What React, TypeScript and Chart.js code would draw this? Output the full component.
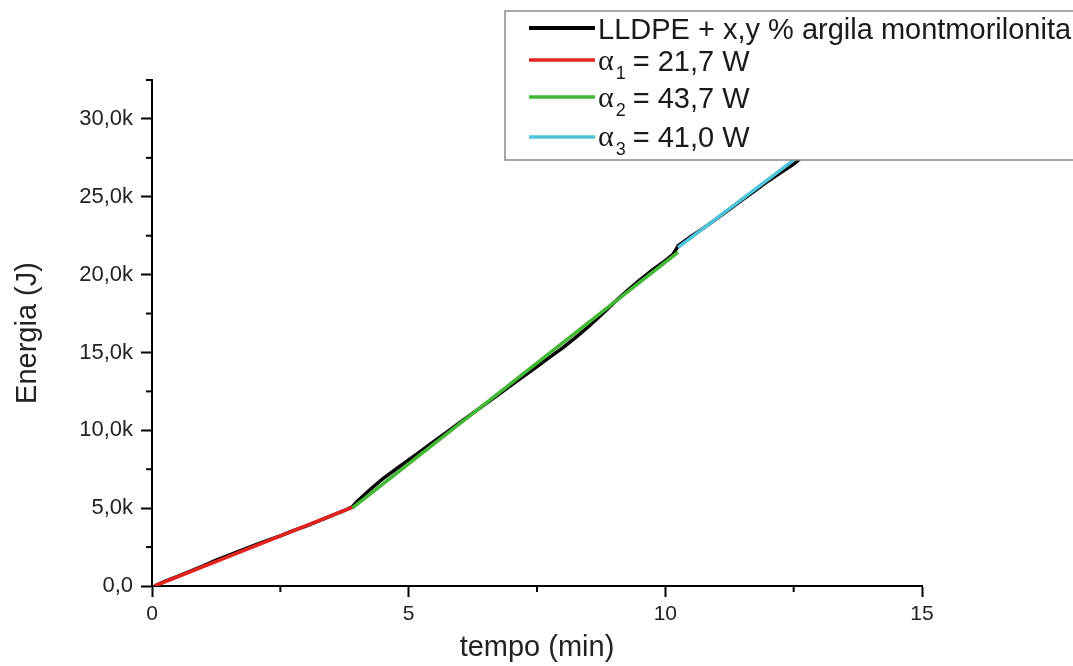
import { useEffect, useRef } from 'react';
import { Chart, registerables } from 'chart.js';

Chart.register(...registerables);

// Measured curve: time (min) and energy (J)
const timeMin = [0.05, 0.25, 0.5, 0.75, 1.0, 1.25, 1.5, 1.75, 2.0, 2.25, 2.5, 2.75, 3.0, 3.25, 3.5, 3.75, 3.9,
  4.0, 4.25, 4.5, 4.75, 5.0, 5.25, 5.5, 5.75, 6.0, 6.25, 6.5, 6.75, 7.0, 7.25, 7.5, 7.75, 8.0, 8.25, 8.5, 8.75,
  9.0, 9.25, 9.5, 9.75, 10.0, 10.15, 10.25, 10.5, 10.75, 11.0, 11.25, 11.5, 11.75, 12.0, 12.25, 12.5, 12.75, 13.0];
const energyJ = [0, 300, 620, 950, 1300, 1660, 1980, 2300, 2620, 2930, 3220, 3550, 3850, 4180, 4520, 4850, 5080,
  5450, 6200, 6900, 7500, 8100, 8700, 9300, 9900, 10500, 11100, 11700, 12300, 12900, 13500, 14100, 14700, 15300,
  15950, 16650, 17400, 18200, 18950, 19650, 20300, 20900, 21300, 21850, 22450, 23000, 23600, 24200, 24800, 25400,
  26000, 26550, 27100, 27800, 28600];

// Linear fits (endpoints)
const fit1X = [0.05, 3.9];
const fit1Y = [0, 5050];
const fit2X = [3.9, 10.25];
const fit2Y = [5000, 21450];
const fit3X = [10.25, 12.7];
const fit3Y = [21750, 27850];

// Legend texts
const legendSymbol = ['', 'α', 'α', 'α'];
const legendSub = ['', '1', '2', '3'];
const legendText = ['LLDPE + x,y % argila montmorilonita', '= 21,7 W', '= 43,7 W', '= 41,0 W'];
const seriesColors = ['#000000', '#e3231f', '#42b934', '#4fc3d8'];

// Axis ticks
const xTickValues = [0, 5, 10, 15];
const xTickLabels = ['0', '5', '10', '15'];
const yTickValues = [0, 5000, 10000, 15000, 20000, 25000, 30000];
const yTickLabels = ['0,0', '5,0k', '10,0k', '15,0k', '20,0k', '25,0k', '30,0k'];

const FONT = "'Liberation Sans', Arial, Helvetica, sans-serif";

const toPts = (xs: number[], ys: number[]) => xs.map((x, i) => ({ x, y: ys[i] }));

const minorTicksPlugin = {
  id: 'minorTicks',
  afterDraw(chart: any) {
    const ctx = chart.ctx;
    const xs = chart.scales.x;
    const ys = chart.scales.y;
    const area = chart.chartArea;
    ctx.save();
    ctx.strokeStyle = '#000';
    ctx.lineWidth = 2;
    for (let v = 2.5; v < 15; v += 5) {
      const px = xs.getPixelForValue(v);
      ctx.beginPath();
      ctx.moveTo(px, area.bottom);
      ctx.lineTo(px, area.bottom + 6);
      ctx.stroke();
    }
    for (let v = 2500; v <= 32500; v += 5000) {
      const py = ys.getPixelForValue(v);
      ctx.beginPath();
      ctx.moveTo(area.left, py);
      ctx.lineTo(area.left - 6, py);
      ctx.stroke();
    }
    ctx.restore();
  },
};

const boxLegendPlugin = {
  id: 'boxLegend',
  afterDraw(chart: any) {
    const ctx = chart.ctx;
    ctx.save();
    const bx = 505, by = 11, bw = 600, bh = 149;
    ctx.fillStyle = '#ffffff';
    ctx.fillRect(bx, by, bw, bh);
    ctx.strokeStyle = '#8a8a8a';
    ctx.lineWidth = 1.5;
    ctx.strokeRect(bx, by, bw, bh);
    const lineY = [28, 60, 97, 137];
    const baseY = [39, 71, 108, 147];
    chart.data.datasets.forEach((ds: any, i: number) => {
      ctx.strokeStyle = ds.borderColor;
      ctx.lineWidth = i === 0 ? 4 : 3.5;
      ctx.beginPath();
      ctx.moveTo(529, lineY[i]);
      ctx.lineTo(595, lineY[i]);
      ctx.stroke();
      ctx.fillStyle = '#1a1a1a';
      ctx.textBaseline = 'alphabetic';
      let x = 598;
      if (legendSymbol[i]) {
        ctx.font = `30px 'Liberation Serif', 'DejaVu Serif', serif`;
        ctx.fillText(legendSymbol[i], x, baseY[i] - 1);
        x += ctx.measureText(legendSymbol[i]).width + 2;
        ctx.font = `18px ${FONT}`;
        ctx.fillText(legendSub[i], x, baseY[i] + 8);
        x += ctx.measureText(legendSub[i]).width + 7;
      }
      ctx.font = `29px ${FONT}`;
      ctx.fillText(legendText[i], x, baseY[i]);
    });
    ctx.restore();
  },
};

export default function App() {
  const ref = useRef<HTMLCanvasElement>(null);
  useEffect(() => {
    document.body.style.margin = '0';
    const canvas = ref.current;
    if (!canvas) return;
    Chart.defaults.font.family = FONT;
    const mkDs = (label: string, data: any[], color: string, order: number) => ({
      label,
      data,
      borderColor: color,
      backgroundColor: color,
      borderWidth: 3.5,
      showLine: true,
      pointRadius: 0,
      order,
    });
    const chart = new Chart(canvas, {
      type: 'scatter',
      data: {
        datasets: [
          mkDs(legendText[0], toPts(timeMin, energyJ), seriesColors[0], 1),
          mkDs(legendSymbol[1] + legendSub[1] + ' ' + legendText[1], toPts(fit1X, fit1Y), seriesColors[1], 0),
          mkDs(legendSymbol[2] + legendSub[2] + ' ' + legendText[2], toPts(fit2X, fit2Y), seriesColors[2], 0),
          mkDs(legendSymbol[3] + legendSub[3] + ' ' + legendText[3], toPts(fit3X, fit3Y), seriesColors[3], 0),
        ],
      },
      options: {
        responsive: false,
        animation: false,
        layout: { padding: { top: 80, right: 151, left: 0, bottom: 0 } },
        plugins: {
          legend: { display: false },
          tooltip: { enabled: false },
        },
        scales: {
          x: {
            type: 'linear',
            min: 0,
            max: 15,
            border: { display: true, color: '#000', width: 2 },
            grid: {
              drawOnChartArea: false,
              drawTicks: true,
              tickLength: 11,
              tickWidth: 2,
              tickColor: '#000',
            },
            afterBuildTicks: (s: any) => {
              s.ticks = xTickValues.map((v) => ({ value: v }));
            },
            ticks: {
              autoSkip: false,
              maxRotation: 0,
              color: '#222',
              padding: 5,
              font: { size: 21, family: FONT },
              callback: (_v: any, i: number) => xTickLabels[i] ?? '',
            },
            title: {
              display: true,
              text: 'tempo (min)',
              color: '#222',
              font: { size: 29, family: FONT },
              padding: { top: 0, bottom: 1 },
            },
            afterFit: (s: any) => {
              s.height = 80;
            },
          },
          y: {
            type: 'linear',
            min: 0,
            max: 32500,
            border: { display: true, color: '#000', width: 2 },
            grid: {
              drawOnChartArea: false,
              drawTicks: true,
              tickLength: 11,
              tickWidth: 2,
              tickColor: '#000',
            },
            afterBuildTicks: (s: any) => {
              s.ticks = yTickValues.map((v) => ({ value: v }));
            },
            ticks: {
              autoSkip: false,
              color: '#222',
              padding: 8,
              font: { size: 22, family: FONT },
              callback: (_v: any, i: number) => yTickLabels[i] ?? '',
            },
            title: {
              display: true,
              text: 'Energia (J)',
              color: '#222',
              font: { size: 29, family: FONT },
              padding: { top: 11, bottom: 0 },
            },
            afterFit: (s: any) => {
              s.width = 152;
            },
          },
        },
      },
      plugins: [minorTicksPlugin, boxLegendPlugin],
    } as any);
    return () => chart.destroy();
  }, []);
  return (
    <div style={{ position: 'absolute', left: 0, top: 0, width: 1073, height: 666, background: '#fff' }}>
      <canvas ref={ref} width={1073} height={666} style={{ display: 'block' }} />
    </div>
  );
}
